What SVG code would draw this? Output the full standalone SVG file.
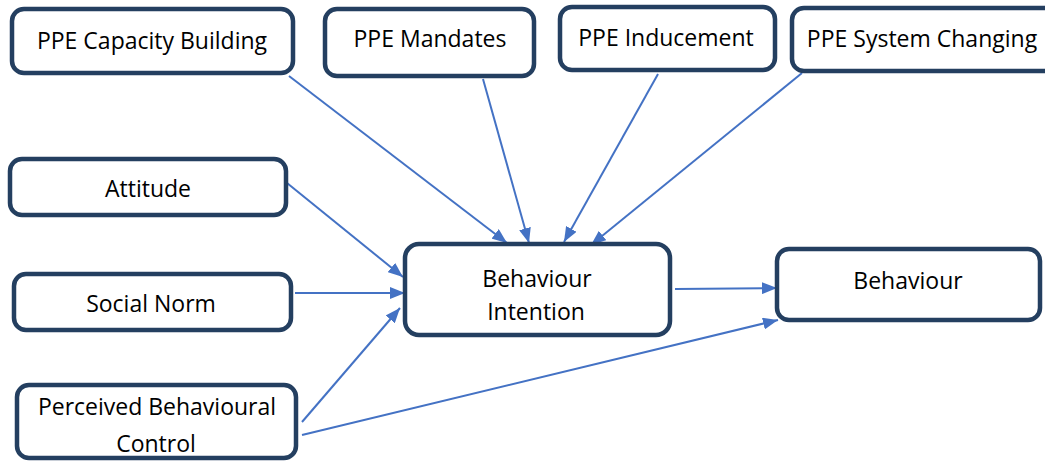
<svg xmlns="http://www.w3.org/2000/svg" width="1045" height="462" viewBox="0 0 1045 462">
  <style>
    .box { fill: #ffffff; stroke: #243F60; stroke-width: 4.5; }
    .lbl { font-family: "Open Sans", "Liberation Sans", sans-serif; font-size: 23px; fill: #000000; text-anchor: middle; }
    .con { stroke: #4472C4; stroke-width: 2; fill: none; marker-end: url(#arr); }
  </style>
  <defs>
    <marker id="arr" markerUnits="userSpaceOnUse" markerWidth="16" markerHeight="12" refX="15" refY="6" orient="auto">
      <path d="M0,0 L15,6 L0,12 Z" fill="#4472C4"/>
    </marker>
  </defs>
  <rect width="1045" height="462" fill="#ffffff"/>

  <g id="connectors">
    <line class="con" x1="289" y1="76" x2="507" y2="243"/>
    <line class="con" x1="483" y1="79" x2="529" y2="243"/>
    <line class="con" x1="658" y1="74" x2="564" y2="242"/>
    <line class="con" x1="802" y1="73" x2="591" y2="245"/>
    <line class="con" x1="287" y1="183" x2="403" y2="277"/>
    <line class="con" x1="295" y1="293" x2="405" y2="293"/>
    <line class="con" x1="302" y1="422" x2="400" y2="308"/>
    <line class="con" x1="675" y1="289" x2="777" y2="288"/>
    <line class="con" x1="302" y1="435" x2="778" y2="320"/>
  </g>

  <g id="node-capacity">
    <rect class="box" x="12" y="9" width="281" height="64" rx="12"/>
    <text class="lbl" x="152" y="49">PPE Capacity Building</text>
  </g>
  <g id="node-mandates">
    <rect class="box" x="325" y="9" width="209" height="67" rx="12"/>
    <text class="lbl" x="430" y="46.5">PPE Mandates</text>
  </g>
  <g id="node-inducement">
    <rect class="box" x="560" y="7" width="215" height="63" rx="12"/>
    <text class="lbl" x="666" y="46">PPE Inducement</text>
  </g>
  <g id="node-system">
    <rect class="box" x="792" y="8" width="275" height="63" rx="12"/>
    <text class="lbl" x="922" y="47">PPE System Changing</text>
  </g>
  <g id="node-attitude">
    <rect class="box" x="10" y="159" width="276" height="56" rx="12"/>
    <text class="lbl" x="148" y="197">Attitude</text>
  </g>
  <g id="node-social">
    <rect class="box" x="14" y="274" width="277" height="56" rx="12"/>
    <text class="lbl" x="151" y="312">Social Norm</text>
  </g>
  <g id="node-pbc">
    <rect class="box" x="17" y="385" width="279" height="73" rx="12"/>
    <text class="lbl" x="157" y="415">Perceived Behavioural</text>
    <text class="lbl" x="156" y="452">Control</text>
  </g>
  <g id="node-intention">
    <rect class="box" x="405" y="244" width="265" height="91" rx="14"/>
    <text class="lbl" x="537" y="286.5">Behaviour</text>
    <text class="lbl" x="536" y="320">Intention</text>
  </g>
  <g id="node-behaviour">
    <rect class="box" x="777" y="249" width="263" height="71" rx="12"/>
    <text class="lbl" x="908" y="289">Behaviour</text>
  </g>
</svg>
